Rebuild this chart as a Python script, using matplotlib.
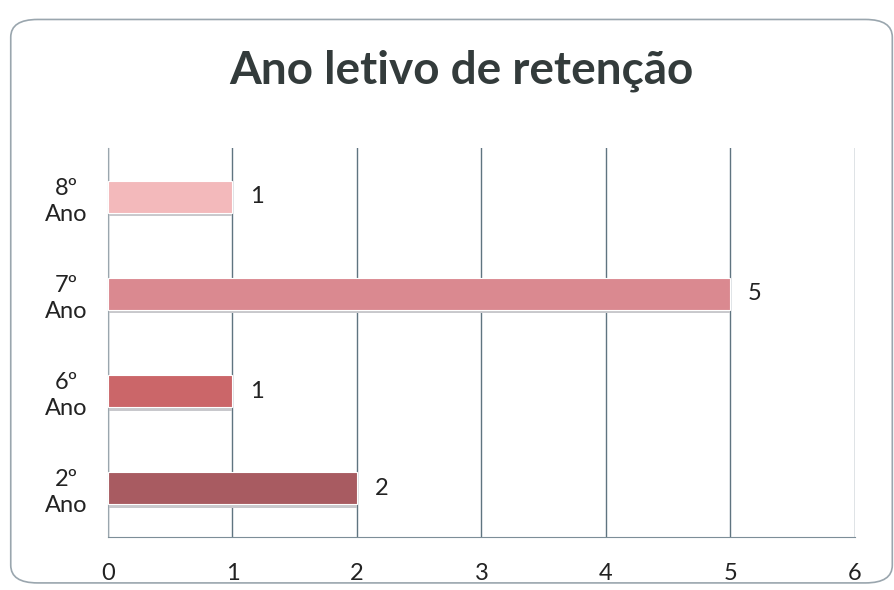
import numpy as np
import matplotlib.pyplot as plt
from matplotlib.patches import FancyBboxPatch

plt.rcParams['font.family'] = ['Lato', 'DejaVu Sans']

categorias = ["2º\nAno", "6º\nAno", "7º\nAno", "8º\nAno"]
valores = [2, 1, 5, 1]
cores = ["#A85B61", "#CB6669", "#DA8990", "#F3B9BB"]

fig = plt.figure(figsize=(8.95, 5.9), dpi=100)
fig.patch.set_facecolor("white")

# moldura arredondada
moldura = FancyBboxPatch((0.012, 0.012), 0.985, 0.955, boxstyle="round,pad=0,rounding_size=0.03",
                         transform=fig.transFigure, facecolor="none", edgecolor="#9aa6ae",
                         linewidth=1.2, zorder=-1)
fig.patches.append(moldura)

ax = fig.add_axes([108/895, 1-537/590, (855-108)/895, (537-148)/590])
ax.set_facecolor("none")
y = np.arange(len(categorias))
altura = 0.33

# sombra por baixo das barras
ax.barh(y - 0.035, valores, height=altura, color="#c8c8cc", zorder=2)
ax.barh(y, valores, height=altura, color=cores, edgecolor="white", linewidth=0.8, zorder=3)

for yi, v in zip(y, valores):
    ax.text(v + 0.14, yi, str(v), va="center", ha="left", fontsize=17, color="#222222")

ax.set_xlim(0, 6)
ax.set_ylim(-0.5, len(categorias) - 0.5)
ax.set_xticks(range(7))
ax.set_yticks(y)
ax.set_yticklabels(categorias, fontsize=17, ha="center", linespacing=1.3, color="#222222")
ax.tick_params(axis="y", length=0, pad=30)
ax.tick_params(axis="x", length=0, pad=19, labelsize=17, labelcolor="#222222")
ax.xaxis.grid(True, color="#5f7480", linewidth=1.0)
ax.set_axisbelow(True)
ax.spines["top"].set_visible(False)
ax.spines["right"].set_visible(False)
ax.spines["bottom"].set_color("#7d8e98")
ax.spines["left"].set_color("#9aa6ae")

fig.text(0.515, 0.88, "Ano letivo de retenção", ha="center", va="center",
         fontsize=33, fontweight="bold", color="#333b3b")

fig.savefig("out.png", dpi=100)
